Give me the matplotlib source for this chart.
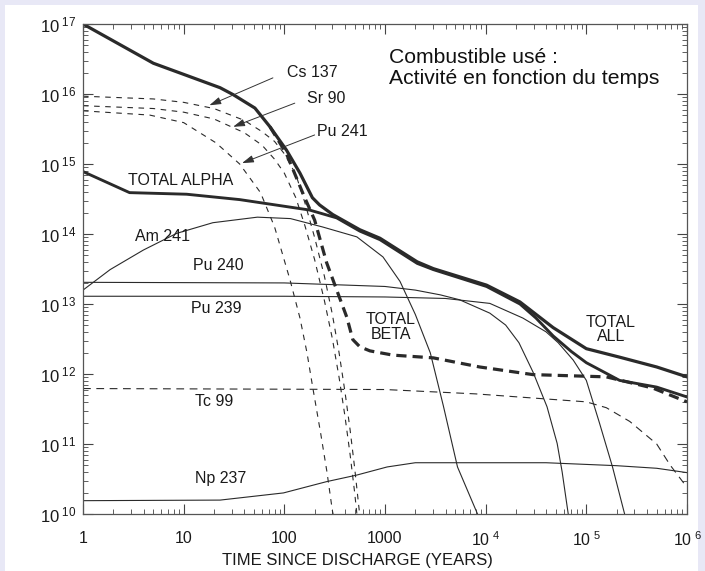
import matplotlib
matplotlib.use("Agg")
import matplotlib.pyplot as plt
from matplotlib.ticker import LogLocator, FixedLocator, FixedFormatter, NullFormatter
from matplotlib.patches import Rectangle

plt.rcParams['font.family'] = ['Liberation Sans', 'DejaVu Sans']
plt.rcParams['mathtext.fontset'] = 'custom'
plt.rcParams['mathtext.rm'] = 'Liberation Sans'
plt.rcParams['mathtext.it'] = 'Liberation Sans:italic'
plt.rcParams['mathtext.bf'] = 'Liberation Sans:bold'

# ---------------- data (years, activity) ----------------
total_all_t = [1, 5.0, 23, 31, 51, 72, 105, 143, 190, 224, 302, 562, 891, 2090, 3020,
               10200, 21900, 46800, 1e5, 2.14e5, 5.0e5, 1e6]
total_all_a = [1e17, 2.75e16, 1.23e16, 9.8e15, 6.3e15, 3.4e15, 1.58e15, 7.4e14, 3.3e14,
               2.6e14, 1.9e14, 1.15e14, 8.7e13, 4.0e13, 3.2e13, 1.86e13, 1.07e13, 4.6e12,
               2.3e12, 1.74e12, 1.26e12, 9.1e11]

total_alpha_t = [1, 2.9, 10.7, 36, 178, 331, 562, 891, 2090, 3020, 10200, 21900, 31600,
                 46800, 70800, 1e5, 2.14e5, 5e5, 1e6]
total_alpha_a = [7.8e14, 3.9e14, 3.7e14, 3.1e14, 2.2e14, 1.7e14, 1.1e14, 8.3e13, 3.8e13,
                 3.1e13, 1.78e13, 1.0e13, 6.3e12, 3.5e12, 2.1e12, 1.45e12, 8.1e11, 6.5e11, 4.7e11]

total_beta_t = [72, 105, 158, 200, 263, 339, 417, 479, 562, 708, 1200, 3020, 8710, 29500,
                1.58e5, 4.57e5, 1e6]
total_beta_a = [3.4e15, 1.4e15, 3.4e14, 1.58e14, 3.9e13, 1.45e13, 6.5e12, 3.1e12, 2.45e12,
                2.14e12, 1.86e12, 1.7e12, 1.26e12, 9.8e11, 9.1e11, 6.3e11, 4.0e11]

cs137_t = [1, 5, 10, 20, 40, 60, 80, 100, 130, 160, 200, 250, 300, 350, 400, 450, 500, 550, 580]
cs137_a = [9.3e15, 8.5e15, 7.6e15, 6.2e15, 4.2e15, 2.9e15, 2.1e15, 1.4e15, 7.1e14, 2.8e14,
           8.9e13, 2.5e13, 7.1e12, 2.0e12, 5.6e11, 1.6e11, 4.5e10, 1.26e10, 6.3e9]

sr90_t = [1, 5, 10, 20, 40, 60, 80, 100, 130, 160, 200, 250, 300, 350, 400, 450, 500, 530]
sr90_a = [6.8e15, 6.2e15, 5.5e15, 4.4e15, 2.8e15, 1.86e15, 1.17e15, 7.4e14, 3.3e14, 1.32e14,
          4.3e13, 1.12e13, 3.2e12, 8.9e11, 2.5e11, 7.1e10, 2.0e10, 8.9e9]

pu241_t = [1, 4.6, 10, 21, 36, 58, 80, 114, 143, 168, 192, 230, 265, 300, 315]
pu241_a = [5.75e15, 5.0e15, 3.9e15, 2.0e15, 1.0e15, 3.9e14, 1.26e14, 2.2e13, 6.3e12, 2.0e12,
           6.3e11, 1.4e11, 4.0e10, 1.12e10, 7.9e9]

am241_t = [1, 1.86, 3.98, 8.5, 19.5, 54, 115, 240, 525, 955, 1410, 2000, 2820, 3800, 5250, 8300]
am241_a = [1.58e13, 3.1e13, 5.9e13, 1.02e14, 1.45e14, 1.74e14, 1.66e14, 1.26e14, 9.1e13,
           4.7e13, 2.1e13, 7.1e12, 2.0e12, 3.5e11, 4.7e10, 1.0e10]

pu240_t = [1, 100, 1000, 2000, 3550, 5500, 11000, 15800, 21400, 29500, 40700, 51300, 57500, 66100]
pu240_a = [2.04e13, 2.0e13, 1.78e13, 1.58e13, 1.35e13, 1.15e13, 7.4e12, 5.0e12, 2.8e12,
           1.07e12, 3.4e11, 1.02e11, 4.0e10, 1.0e10]

pu239_t = [1, 100, 1000, 3980, 11000, 23400, 39800, 52500, 74100, 1e5, 1.35e5, 1.82e5, 2.4e5]
pu239_a = [1.29e13, 1.29e13, 1.26e13, 1.2e13, 1.02e13, 6.3e12, 4.0e12, 2.8e12, 1.58e12,
           8.1e11, 2.0e11, 4.7e10, 1.0e10]

tc99_t = [1, 1000, 7940, 39800, 1e5, 1.58e5, 2.7e5, 5e5, 6.8e5, 1e6]
tc99_a = [6.2e11, 6.0e11, 5.2e11, 4.4e11, 4.0e11, 3.3e11, 2.1e11, 1.0e11, 5.0e10, 2.4e10]

np237_t = [1, 23, 98, 263, 525, 1050, 2000, 39800, 2e5, 5e5, 1e6]
np237_a = [1.55e10, 1.58e10, 2.0e10, 2.9e10, 3.6e10, 4.7e10, 5.4e10, 5.4e10, 4.9e10, 4.5e10, 3.9e10]

x_ticks = [1, 10, 100, 1000, 1e4, 1e5, 1e6]
x_tick_labels = ['1', '10', '100', '1000', r'$\mathregular{10^{\ 4}}$',
                 r'$\mathregular{10^{\ 5}}$', r'$\mathregular{10^{\ 6}}$']
y_ticks = [1e10, 1e11, 1e12, 1e13, 1e14, 1e15, 1e16, 1e17]
y_tick_labels = [r'$\mathregular{10^{\ %d}}$' % e for e in range(10, 18)]

x_label = 'TIME SINCE DISCHARGE (YEARS)'
title_text = 'Combustible usé :\nActivité en fonction du temps'

# ---------------- figure ----------------
W, H = 705, 571
fig = plt.figure(figsize=(W / 100, H / 100), dpi=100)
fig.patch.set_facecolor('#e8e8f6')
fig.patches.append(Rectangle((5 / W, 0), (698 - 5) / W, (H - 5) / H,
                             transform=fig.transFigure, facecolor='white',
                             edgecolor='none', zorder=-10))

ax = fig.add_axes([83 / W, (H - 514) / H, (687 - 83) / W, (514 - 24) / H])
ax.set_zorder(5)
ax.set_xscale('log')
ax.set_yscale('log')
ax.set_xlim(1, 1e6)
ax.set_ylim(1e10, 1e17)
ax.patch.set_alpha(0)

lc = '#2a2a2a'
thick = 2.3
thin = 0.8

ax.plot(total_all_t, total_all_a, color=lc, lw=thick, solid_joinstyle='round')
ax.plot(total_alpha_t, total_alpha_a, color=lc, lw=thick * 0.9, solid_joinstyle='round')
ax.plot(total_beta_t, total_beta_a, color=lc, lw=thick, dashes=(3.2, 1.9))

for t, a in [(cs137_t, cs137_a), (sr90_t, sr90_a), (pu241_t, pu241_a)]:
    ax.plot(t, a, color=lc, lw=thin, dashes=(5, 5))

for t, a in [(am241_t, am241_a), (pu240_t, pu240_a), (pu239_t, pu239_a), (np237_t, np237_a)]:
    ax.plot(t, a, color=lc, lw=thin)

ax.plot(tc99_t, tc99_a, color=lc, lw=thin, dashes=(7, 5))

# ticks
ax.xaxis.set_major_locator(FixedLocator(x_ticks))
ax.xaxis.set_major_formatter(FixedFormatter(x_tick_labels))
ax.yaxis.set_major_locator(FixedLocator(y_ticks))
ax.yaxis.set_major_formatter(FixedFormatter(y_tick_labels))
ax.xaxis.set_minor_locator(LogLocator(base=10, subs=range(2, 10), numticks=20))
ax.yaxis.set_minor_locator(LogLocator(base=10, subs=range(2, 10), numticks=20))
ax.xaxis.set_minor_formatter(NullFormatter())
ax.yaxis.set_minor_formatter(NullFormatter())
ax.tick_params(which='both', direction='in', top=True, right=True, color='#444')
ax.tick_params(which='major', length=7, width=0.8)
ax.tick_params(which='minor', length=3.5, width=0.6)
ax.tick_params(axis='x', which='major', pad=12, labelsize=11.5, labelcolor='#1a1a1a')
ax.tick_params(axis='y', which='major', pad=5, labelsize=12, labelcolor='#1a1a1a')
for s in ax.spines.values():
    s.set_color('#555')
    s.set_linewidth(0.9)

ax.set_xlabel(x_label, fontsize=12, color='#1a1a1a')
ax.xaxis.set_label_coords((357 - 83) / (687 - 83), -0.08)

# labels
fs = 11.5
tc = '#1a1a1a'
ax.text(2.8, 5.9e14, 'TOTAL ALPHA', fontsize=fs, color=tc, va='center', ha='left')
ax.text(3.3, 9.1e13, 'Am 241', fontsize=fs, color=tc, va='center', ha='left')
ax.text(12.4, 3.5e13, 'Pu 240', fontsize=fs, color=tc, va='center', ha='left')
ax.text(11.8, 8.5e12, 'Pu 239', fontsize=fs, color=tc, va='center', ha='left')
ax.text(13, 4.1e11, 'Tc 99', fontsize=fs, color=tc, va='center', ha='left')
ax.text(13, 3.2e10, 'Np 237', fontsize=fs, color=tc, va='center', ha='left')
ax.text(1150, 4.7e12, 'TOTAL\nBETA', fontsize=fs, color=tc, va='center', ha='center',
        linespacing=0.95)
ax.text(1.75e5, 4.3e12, 'TOTAL\nALL', fontsize=fs, color=tc, va='center', ha='center',
        linespacing=0.95)

ax.text(106, 2.0e16, 'Cs 137', fontsize=fs, color=tc, va='center', ha='left')
ax.text(167, 8.5e15, 'Sr 90', fontsize=fs, color=tc, va='center', ha='left')
ax.text(210, 2.9e15, 'Pu 241', fontsize=fs, color=tc, va='center', ha='left')

arrow_kw = dict(arrowstyle='-|>,head_length=0.7,head_width=0.22', lw=0.7, color='#333',
                shrinkA=0, shrinkB=0)
ax.annotate('', xy=(18, 6.9e15), xytext=(77, 1.7e16), arrowprops=arrow_kw)
ax.annotate('', xy=(31, 3.4e15), xytext=(127, 7.4e15), arrowprops=arrow_kw)
ax.annotate('', xy=(38, 1.03e15), xytext=(200, 2.6e15), arrowprops=arrow_kw)

fig.text(389 / W, 1 - 48 / H, title_text, fontsize=15.2, color='#111', va='top', ha='left',
         linespacing=1.12)

fig.savefig('out.png', dpi=100, facecolor=fig.get_facecolor())
